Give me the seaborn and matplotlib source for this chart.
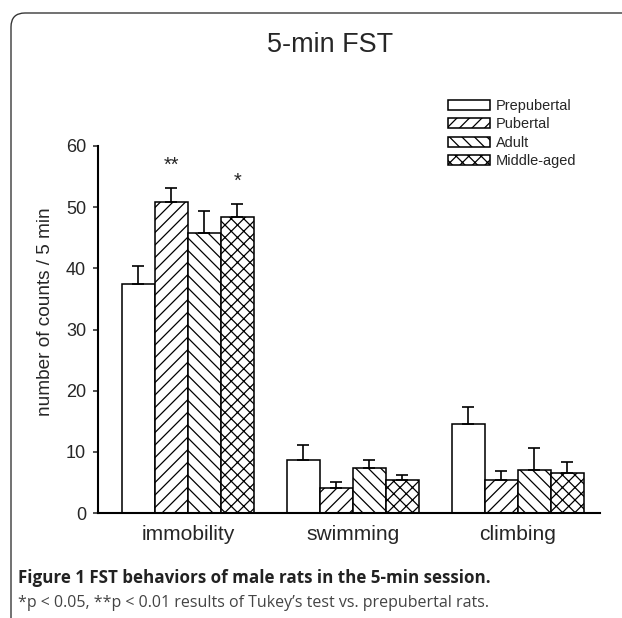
import numpy as np
import pandas as pd
import matplotlib
matplotlib.use("Agg")
import matplotlib.pyplot as plt
import matplotlib.patches as mpatches
import seaborn as sns

# ---- data ----
behaviors = ["immobility", "swimming", "climbing"]
groups = ["Prepubertal", "Pubertal", "Adult", "Middle-aged"]
prepubertal = [37.4, 8.7, 14.5]
prepubertal_err = [2.9, 2.4, 2.9]
pubertal = [50.9, 4.1, 5.4]
pubertal_err = [2.2, 1.0, 1.5]
adult = [45.7, 7.4, 7.0]
adult_err = [3.6, 1.3, 3.7]
middle_aged = [48.4, 5.4, 6.6]
middle_aged_err = [2.1, 0.8, 1.8]
yticks = [0, 10, 20, 30, 40, 50, 60]
# significance marks: (group, behavior, text)
marks = [("Pubertal", "immobility", "**"), ("Middle-aged", "immobility", "*")]

values = [prepubertal, pubertal, adult, middle_aged]
errors = [prepubertal_err, pubertal_err, adult_err, middle_aged_err]
rows = []
for g, vals, errs in zip(groups, values, errors):
    for b, v, e in zip(behaviors, vals, errs):
        rows.append({"group": g, "behavior": b, "value": v, "err": e})
df = pd.DataFrame(rows)

DPI = 75
W, H = 622, 618
def pt(px):
    return px * 72.0 / DPI

sns.set_style("white")
plt.rcParams["font.family"] = ["Liberation Sans", "DejaVu Sans"]
plt.rcParams["hatch.linewidth"] = 1.2
plt.rcParams["hatch.color"] = "black"

fig = plt.figure(figsize=(W / DPI, H / DPI), dpi=DPI)
ax = fig.add_axes([98 / W, 1 - 513 / H, (600 - 98) / W, (513 - 146) / H])

sns.barplot(data=df, x="behavior", y="value", hue="group",
            order=behaviors, hue_order=groups, errorbar=None,
            palette=["white"] * 4, edgecolor="black", linewidth=1.5,
            width=0.8, gap=0, legend=False, ax=ax)

hatches = ["", "//", "\\\\", "xx"]
bar_conts = list(ax.containers)
for i, cont in enumerate(bar_conts):
    xs = []
    for bar in cont:
        bar.set_hatch(hatches[i])
        bar.set_edgecolor("black")
        xs.append(bar.get_x() + bar.get_width() / 2)
    vals = np.array(values[i])
    errs = np.array(errors[i])
    ax.errorbar(xs, vals, yerr=[np.zeros_like(errs), errs], fmt="none",
                ecolor="black", elinewidth=1.6, capsize=pt(6), capthick=1.6,
                zorder=1)
    for g, b, txt in marks:
        if g == groups[i]:
            j = behaviors.index(b)
            ax.annotate(txt, xy=(xs[j], vals[j] + errs[j]), xytext=(0, pt(17)),
                        textcoords="offset points", ha="center", va="baseline",
                        fontsize=pt(20))

ax.set_xlim(-0.545, 2.5)
ax.set_ylim(0, 60)
ax.set_yticks(yticks)
ax.set_yticklabels([str(t) for t in yticks], fontsize=pt(18))
ax.tick_params(axis="y", direction="out", length=pt(5), width=1.5, pad=pt(7), left=True)
ax.tick_params(axis="x", length=0, pad=pt(12), labelsize=pt(21))
ax.set_xlabel("")
ax.set_ylabel("number of counts / 5 min", fontsize=pt(19))
ax.yaxis.set_label_coords((46 - 98) / 502, (513 - 312) / 367)
ax.yaxis.label.set_verticalalignment("center")
for s in ["top", "right"]:
    ax.spines[s].set_visible(False)
for s in ["left", "bottom"]:
    ax.spines[s].set_linewidth(2)
    ax.spines[s].set_color("black")

# legend
handles = [mpatches.Patch(facecolor="white", edgecolor="black", hatch=h, linewidth=1.5, label=g)
           for g, h in zip(groups, hatches)]
fs = 14.5
fig.legend(handles=handles, loc="upper left", bbox_to_anchor=(448 / W, 1 - 99 / H),
           frameon=False, fontsize=pt(fs), handlelength=42 / fs, handleheight=10 / fs,
           handletextpad=6 / fs, labelspacing=0.3, borderpad=0, borderaxespad=0)

# title
fig.text(330 / W, 1 - 45 / H, "5-min FST", ha="center", va="center", fontsize=pt(27))

# frame with rounded corner
frame = mpatches.FancyBboxPatch((11 / DPI, -1.0), (W + 200) / DPI, (H - 13) / DPI + 1.0,
                                boxstyle="round,pad=0,rounding_size=%f" % (14 / DPI),
                                transform=fig.dpi_scale_trans, facecolor="none",
                                edgecolor="#333333", linewidth=1.3, clip_on=False)
fig.patches.append(frame)

# caption
fig.text(18 / W, 1 - 578 / H, "Figure 1 FST behaviors of male rats in the 5-min session.",
         ha="left", va="center", fontsize=pt(17), fontweight="bold",
         family=["Open Sans", "DejaVu Sans"], color="#222222")
fig.text(18 / W, 1 - 603 / H, "*p < 0.05, **p < 0.01 results of Tukey\u2019s test vs. prepubertal rats.",
         ha="left", va="center", fontsize=pt(16), family=["Open Sans", "DejaVu Sans"],
         color="#444444")

fig.savefig("out.png", dpi=DPI)
